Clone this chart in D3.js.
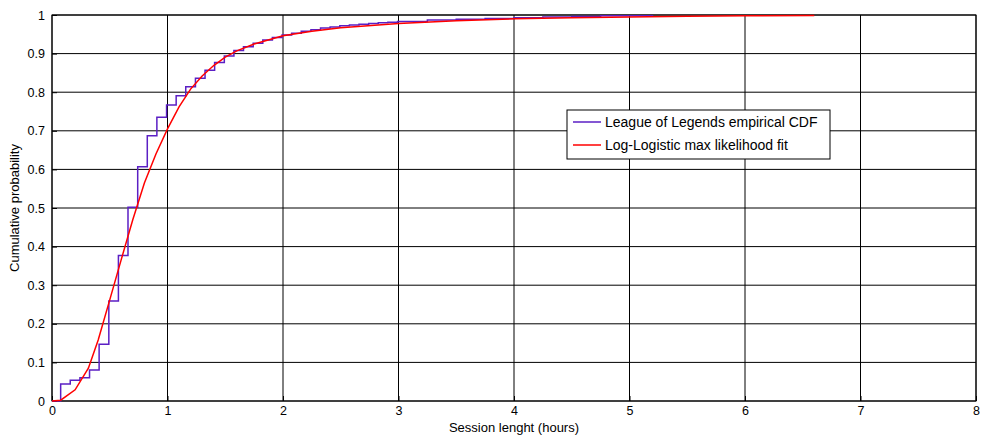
<!DOCTYPE html>
<html>
<head>
<meta charset="utf-8">
<script src="https://cdn.jsdelivr.net/npm/d3@7"></script>
<style>
  body { margin: 0; background: #fff; }
  text { font-family: Arial, "Liberation Sans", sans-serif; fill: #000; }
</style>
</head>
<body>
<svg id="chart" width="982" height="437"></svg>
<script>
// empirical CDF steps (hours, cumulative probability after the step)
const ecdfX = [0, 0.075, 0.158, 0.242, 0.325, 0.408, 0.492, 0.575, 0.658, 0.742, 0.825, 0.908, 0.992,
    1.075, 1.158, 1.242, 1.325, 1.408, 1.492, 1.575, 1.658, 1.742, 1.825, 1.908, 1.992,
    2.075, 2.158, 2.242, 2.325, 2.408, 2.492, 2.575, 2.658, 2.742, 2.825, 2.908, 2.992,
    3.25, 3.5, 3.75, 4.0, 4.25, 4.5, 4.75, 5.2];
const ecdfY = [0, 0.044, 0.054, 0.060, 0.080, 0.147, 0.259, 0.377, 0.502, 0.607, 0.687, 0.735, 0.767,
    0.791, 0.814, 0.836, 0.857, 0.877, 0.894, 0.908, 0.918, 0.927, 0.935, 0.942, 0.948,
    0.953, 0.958, 0.962, 0.966, 0.969, 0.972, 0.974, 0.976, 0.978, 0.980, 0.981, 0.983,
    0.987, 0.989, 0.991, 0.993, 0.995, 0.996, 0.998, 1.0];

// log-logistic fit
const fitX = [0, 0.075, 0.2, 0.315, 0.4, 0.5, 0.6, 0.7, 0.8, 0.9, 1.0, 1.1, 1.2, 1.3, 1.4, 1.5,
    1.6, 1.75, 2.0, 2.25, 2.5, 3.0, 3.5, 4.0, 4.5, 5.0, 5.5, 6.0, 6.6];
const fitY = [0, 0.002, 0.029, 0.085, 0.158, 0.262, 0.367, 0.47, 0.565, 0.64, 0.705, 0.762, 0.808,
    0.842, 0.869, 0.891, 0.907, 0.925, 0.946, 0.958, 0.967, 0.978, 0.985, 0.99, 0.993, 0.995,
    0.997, 0.998, 0.999];

const xTicks = [0, 1, 2, 3, 4, 5, 6, 7, 8];
const yTicks = [0, 0.1, 0.2, 0.3, 0.4, 0.5, 0.6, 0.7, 0.8, 0.9, 1];
const legendLabels = ["League of Legends empirical CDF", "Log-Logistic max likelihood fit"];
const lineColors = ["#5b1fc4", "#ff0000"];

const svg = d3.select("#chart");
const plotL = 52, plotR = 976, plotT = 15, plotB = 401;

const x = d3.scaleLinear().domain([0, 8]).range([plotL, plotR]);
const y = d3.scaleLinear().domain([0, 1]).range([plotB, plotT]);

// grid
const grid = svg.append("g").attr("class", "grid");
grid.selectAll("line.gx")
    .data(xTicks)
    .enter().append("line")
    .attr("x1", d => x(d)).attr("x2", d => x(d))
    .attr("y1", plotT).attr("y2", plotB)
    .attr("stroke", "#000").attr("stroke-width", 1);
grid.selectAll("line.gy")
    .data(yTicks)
    .enter().append("line")
    .attr("x1", plotL).attr("x2", plotR)
    .attr("y1", d => y(d)).attr("y2", d => y(d))
    .attr("stroke", "#000").attr("stroke-width", 1);

// axes, ticks pointing inward like matlab
const xAxis = svg.append("g")
    .attr("transform", `translate(0,${plotB})`)
    .call(d3.axisBottom(x).tickValues(xTicks).tickSize(-5).tickPadding(5).tickFormat(d3.format("d")));
const yAxis = svg.append("g")
    .attr("transform", `translate(${plotL},0)`)
    .call(d3.axisLeft(y).tickValues(yTicks).tickSize(-5).tickPadding(7).tickFormat(d3.format("~g")));
[xAxis, yAxis].forEach(a => {
    a.select(".domain").remove();
    a.selectAll("text").attr("font-size", 12.5).attr("font-family", "Arial, 'Liberation Sans', sans-serif");
});

// box
svg.append("rect")
    .attr("x", plotL).attr("y", plotT)
    .attr("width", plotR - plotL).attr("height", plotB - plotT)
    .attr("fill", "none").attr("stroke", "#000").attr("stroke-width", 1);

// series
const ecdfData = ecdfX.map((v, i) => [v, ecdfY[i]]);
const fitData = fitX.map((v, i) => [v, fitY[i]]);

svg.append("path")
    .datum(ecdfData)
    .attr("d", d3.line().x(d => x(d[0])).y(d => y(d[1])).curve(d3.curveStepAfter))
    .attr("fill", "none").attr("stroke", lineColors[0]).attr("stroke-width", 1.5);

svg.append("path")
    .datum(fitData)
    .attr("d", d3.line().x(d => x(d[0])).y(d => y(d[1])))
    .attr("fill", "none").attr("stroke", lineColors[1]).attr("stroke-width", 1.5);

// axis labels
svg.append("text")
    .attr("x", (plotL + plotR) / 2).attr("y", 432)
    .attr("text-anchor", "middle").attr("font-size", 13)
    .text("Session lenght (hours)");
svg.append("text")
    .attr("transform", `translate(19,${(plotT + plotB) / 2}) rotate(-90)`)
    .attr("text-anchor", "middle").attr("font-size", 13)
    .text("Cumulative probability");

// legend
const legend = svg.append("g").attr("transform", "translate(567,110)");
legend.append("rect")
    .attr("width", 263).attr("height", 49)
    .attr("fill", "#fff").attr("stroke", "#000").attr("stroke-width", 1);
legendLabels.forEach((lab, i) => {
    const ly = 12 + i * 23;
    legend.append("line")
        .attr("x1", 6).attr("x2", 34).attr("y1", ly).attr("y2", ly)
        .attr("stroke", lineColors[i]).attr("stroke-width", 1.5);
    legend.append("text")
        .attr("x", 38).attr("y", ly + 5).attr("font-size", 14)
        .text(lab);
});
</script>
</body>
</html>
